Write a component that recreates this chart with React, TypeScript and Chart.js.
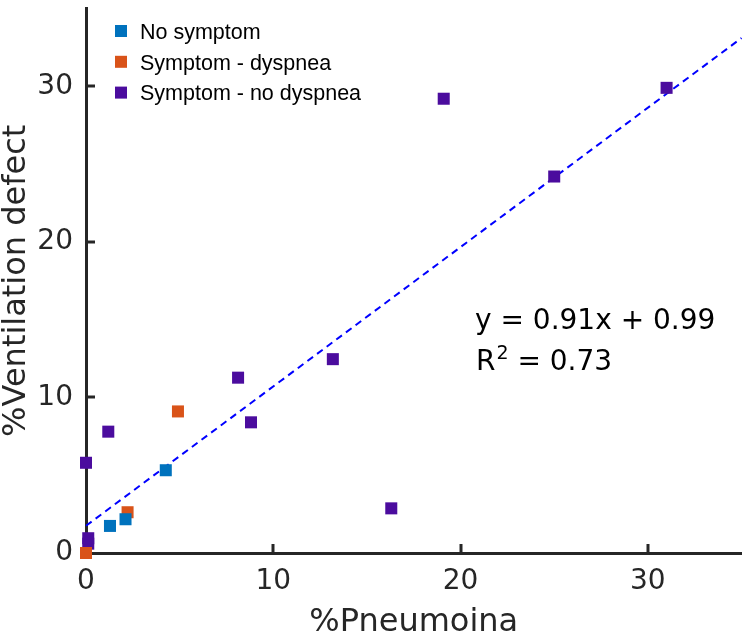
import React, { useEffect, useRef } from 'react';
import { Chart, registerables } from 'chart.js';

Chart.register(...registerables);

// ---- data ----
const noSymptomX = [1.28, 2.11, 4.26];
const noSymptomY = [1.74, 2.17, 5.32];
const dyspneaX = [0, 2.22, 4.91];
const dyspneaY = [0, 2.62, 9.1];
const noDyspneaX = [0.12, 0.12, 0, 1.19, 8.12, 8.81, 13.18, 16.3, 19.1, 25.0, 31.0];
const noDyspneaY = [0.6, 0.95, 5.8, 7.8, 11.27, 8.4, 12.46, 2.87, 29.2, 24.2, 29.9];
const fitX = [0, 35];
const fitY = [1.75, 33.1];
const seriesNames = ['No symptom', 'Symptom - dyspnea', 'Symptom - no dyspnea'];
const seriesColors = ['#0072bd', '#d95319', '#4b0c9e'];
const xTicks = [0, 10, 20, 30];
const yTicks = [0, 10, 20, 30];
const xTitle = '%Pneumoina';
const yTitle = '%Ventilation defect';
const fitLabel = 'y = 0.91x + 0.99';
const r2Value = '0.73';

const AXIS = '#262626';
const DJ = 'DejaVu Sans';
const LIB = 'Liberation Sans';

const toPts = (xs: number[], ys: number[]) => xs.map((x, i) => ({ x, y: ys[i] }));

const decorPlugin = {
  id: 'decor',
  afterDraw(chart: any) {
    const { ctx, chartArea } = chart;
    const xs = chart.scales.x;
    const ys = chart.scales.y;
    ctx.save();
    // inward tick marks
    ctx.strokeStyle = AXIS;
    ctx.lineWidth = 3;
    xTicks.forEach((v) => {
      if (v === 0) return;
      const px = Math.round(xs.getPixelForValue(v));
      ctx.beginPath();
      ctx.moveTo(px, chartArea.bottom);
      ctx.lineTo(px, chartArea.bottom - 9);
      ctx.stroke();
    });
    yTicks.forEach((v) => {
      if (v === 0) return;
      const py = Math.round(ys.getPixelForValue(v));
      ctx.beginPath();
      ctx.moveTo(chartArea.left, py);
      ctx.lineTo(chartArea.left + 9, py);
      ctx.stroke();
    });

    // legend
    ctx.font = `21.5px "${LIB}"`;
    ctx.textAlign = 'left';
    ctx.textBaseline = 'alphabetic';
    seriesNames.forEach((name, i) => {
      const cy = chartArea.top + 22.5 + i * 30.8;
      const cx = chartArea.left + 35;
      ctx.fillStyle = seriesColors[i];
      ctx.fillRect(cx - 6, cy - 6, 12, 12);
      ctx.fillStyle = '#000';
      ctx.fillText(name, chartArea.left + 54, cy + 7.7);
    });

    // fit annotation
    const ax = chartArea.left + 389;
    ctx.fillStyle = '#000';
    ctx.font = `28px "${DJ}"`;
    ctx.fillText(fitLabel, ax, chartArea.top + 320);
    const y2 = chartArea.top + 361;
    ctx.fillText('R', ax + 1, y2);
    const rw = ctx.measureText('R').width;
    ctx.font = `19px "${DJ}"`;
    ctx.fillText('2', ax + 1 + rw + 1, y2 - 10.5);
    const tw = ctx.measureText('2').width;
    ctx.font = `28px "${DJ}"`;
    ctx.fillText(' = ' + r2Value, ax + 1 + rw + 1 + tw, y2);

    // axis titles
    ctx.fillStyle = AXIS;
    ctx.font = `32px "${DJ}"`;
    ctx.textAlign = 'center';
    ctx.fillText(xTitle, (chartArea.left + chartArea.right) / 2, chart.height - 2);
    ctx.translate(25, (chartArea.top + chartArea.bottom) / 2);
    ctx.rotate(-Math.PI / 2);
    ctx.fillText(yTitle, 0, 0);
    ctx.restore();
  },
};

export default function App() {
  const ref = useRef<HTMLCanvasElement | null>(null);
  useEffect(() => {
    if (!ref.current) return;
    const pointDs = (i: number, xs: number[], ys: number[]) => ({
      type: 'scatter' as const,
      label: seriesNames[i],
      data: toPts(xs, ys),
      pointStyle: 'rect',
      pointRadius: 8.5,
      pointHoverRadius: 8.5,
      pointBorderWidth: 0,
      backgroundColor: seriesColors[i],
      borderColor: seriesColors[i],
      borderWidth: 0,
      clip: false as any,
    });
    const chart = new Chart(ref.current, {
      type: 'scatter',
      data: {
        datasets: [
          pointDs(0, noSymptomX, noSymptomY),
          pointDs(1, dyspneaX, dyspneaY),
          pointDs(2, noDyspneaX, noDyspneaY),
          {
            type: 'line',
            label: 'fit',
            data: toPts(fitX, fitY),
            borderColor: '#0000ff',
            borderWidth: 2,
            borderDash: [7, 5],
            pointRadius: 0,
            fill: false,
            showLine: true,
            clip: false as any,
          } as any,
        ],
      },
      options: {
        responsive: false,
        animation: false,
        layout: { padding: { top: 5, right: 5, left: 0, bottom: 0 } },
        plugins: { legend: { display: false }, tooltip: { enabled: false } },
        scales: {
          x: {
            type: 'linear',
            min: 0,
            max: 35,
            afterBuildTicks: (s: any) => {
              s.ticks = xTicks.map((v) => ({ value: v }));
            },
            afterFit: (s: any) => {
              s.height = 80;
              s.paddingLeft = 0;
              s.paddingRight = 0;
            },
            grid: { display: false, drawTicks: false },
            border: { display: true, color: AXIS, width: 3 },
            ticks: {
              color: AXIS,
              font: { family: DJ, size: 28 },
              padding: 12,
              maxRotation: 0,
              autoSkip: false,
            },
          },
          y: {
            type: 'linear',
            min: 0,
            max: 35,
            afterBuildTicks: (s: any) => {
              s.ticks = yTicks.map((v) => ({ value: v }));
            },
            afterFit: (s: any) => {
              s.width = 86;
              s.paddingTop = 0;
              s.paddingBottom = 0;
            },
            grid: { display: false, drawTicks: false },
            border: { display: true, color: AXIS, width: 3 },
            ticks: {
              color: AXIS,
              font: { family: DJ, size: 28 },
              padding: 13,
              autoSkip: false,
            },
          },
        },
      },
      plugins: [decorPlugin],
    } as any);
    return () => chart.destroy();
  }, []);
  return (
    <div style={{ position: 'absolute', left: 0, top: 0, width: 750, height: 633, background: '#fff' }}>
      <canvas ref={ref} width={750} height={633} />
    </div>
  );
}
